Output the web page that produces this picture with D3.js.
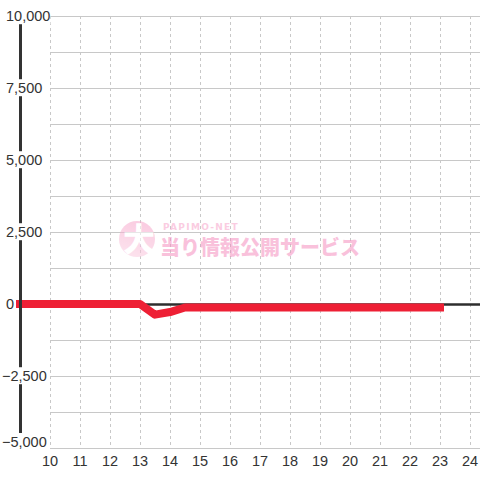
<!DOCTYPE html>
<html><head><meta charset="utf-8">
<script src="https://cdn.jsdelivr.net/npm/d3@7"></script>
<style>html,body{margin:0;padding:0;background:#fff;}svg{display:block;}</style>
</head><body><div id="chart"></div>
<script>
const hours = [9, 10, 11, 12, 13, 13.5, 14, 14.5, 15, 16, 17, 18, 19, 20, 21, 22, 23];
const values = [0, 0, 0, 0, 0, -370, -280, -120, -120, -120, -120, -120, -120, -120, -120, -120, -120];
const xTicks = [10, 11, 12, 13, 14, 15, 16, 17, 18, 19, 20, 21, 22, 23, 24];
const yTicks = [10000, 7500, 5000, 2500, 0, -2500, -5000];
const yGrid = [10000, 8750, 7500, 6250, 5000, 3750, 2500, 1250, 0, -1250, -2500, -3750, -5000];

const W = 480, H = 480;
const svg = d3.select("#chart").append("svg").attr("width", W).attr("height", H);
svg.append("rect").attr("width", W).attr("height", H).attr("fill", "#fff");

const x = d3.scaleLinear().domain([9, 24]).range([20, 470]);
const y = d3.scaleLinear().domain([-5000, 10000]).range([448, 16]);

// horizontal grid
svg.append("g").selectAll("line").data(yGrid).join("line")
  .attr("x1", 50).attr("x2", W).attr("y1", d => y(d) + 0.5).attr("y2", d => y(d) + 0.5)
  .attr("stroke", "#c8c8c8").attr("stroke-width", 1);
// vertical grid
svg.append("g").selectAll("line").data(xTicks).join("line")
  .attr("x1", d => x(d) + 0.5).attr("x2", d => x(d) + 0.5).attr("y1", 16).attr("y2", 448)
  .attr("stroke", "#c8c8c8").attr("stroke-width", 1).attr("stroke-dasharray", "3,3");

// watermark
const wm = svg.append("g").attr("opacity", 0.55);
const grad = svg.append("defs").append("linearGradient").attr("id", "wmg").attr("x1", 0.3).attr("y1", 0).attr("x2", 0).attr("y2", 1);
grad.append("stop").attr("offset", "0%").attr("stop-color", "#f7a6cb");
grad.append("stop").attr("offset", "100%").attr("stop-color", "#fbd0e2");
wm.append("circle").attr("cx", 137).attr("cy", 239).attr("r", 18).attr("fill", "url(#wmg)");
wm.append("text").attr("x", 139).attr("y", 251).attr("text-anchor", "middle")
  .attr("font-family", "Noto Sans CJK JP").attr("font-weight", "900").attr("font-size", 32)
  .attr("fill", "#fff").text("大");
wm.append("text").attr("x", 163).attr("y", 230)
  .attr("font-family", "DejaVu Sans").attr("font-weight", "bold").attr("font-size", 9)
  .attr("letter-spacing", 1.3).attr("fill", "#f7a3c9").text("PAPIMO-NET");
wm.append("text").attr("x", 160).attr("y", 255)
  .attr("font-family", "Noto Sans CJK JP").attr("font-weight", "900").attr("font-size", 20)
  .attr("fill", "#f590bf").text("当り情報公開サービス");

// zero line
svg.append("line").attr("x1", 20).attr("x2", W).attr("y1", y(0) + 0.5).attr("y2", y(0) + 0.5)
  .attr("stroke", "#2e2e2e").attr("stroke-width", 2.5);

// data line
const line = d3.line().x(d => x(d[0])).y(d => y(d[1]));
svg.append("path").datum(hours.map((h, i) => [h, values[i]]))
  .attr("d", line).attr("fill", "none").attr("stroke", "#ee2035")
  .attr("stroke-width", 8).attr("stroke-linecap", "square").attr("stroke-linejoin", "round");

// y axis line
svg.append("line").attr("x1", 20.5).attr("x2", 20.5).attr("y1", 16).attr("y2", 442)
  .attr("stroke", "#333").attr("stroke-width", 3);

// y labels with background
const yMin = d3.min(yTicks);
const yl = svg.append("g").selectAll("g").data(yTicks).join("g");
yl.append("text").attr("x", d => d < 0 ? 2 : 6)
  .attr("y", d => d === yMin ? y(d) - 1 : y(d))
  .attr("dy", d => d === yMin ? "0em" : "0.36em")
  .attr("font-family", "Liberation Sans, Arial, sans-serif").attr("font-size", 14.5)
  .attr("fill", "#333").text(d => d3.format(",")(d));
yl.each(function() {
  const g = d3.select(this);
  const bb = g.select("text").node().getBBox();
  g.insert("rect", "text").attr("x", bb.x).attr("y", bb.y - 1).attr("width", bb.width).attr("height", bb.height + 1).attr("fill", "#fff");
});

// x labels
svg.append("g").selectAll("text").data(xTicks).join("text")
  .attr("x", d => x(d)).attr("y", 466).attr("text-anchor", "middle")
  .attr("font-family", "Liberation Sans, Arial, sans-serif").attr("font-size", 14.5)
  .attr("fill", "#333").text(d => d);
</script></body></html>
